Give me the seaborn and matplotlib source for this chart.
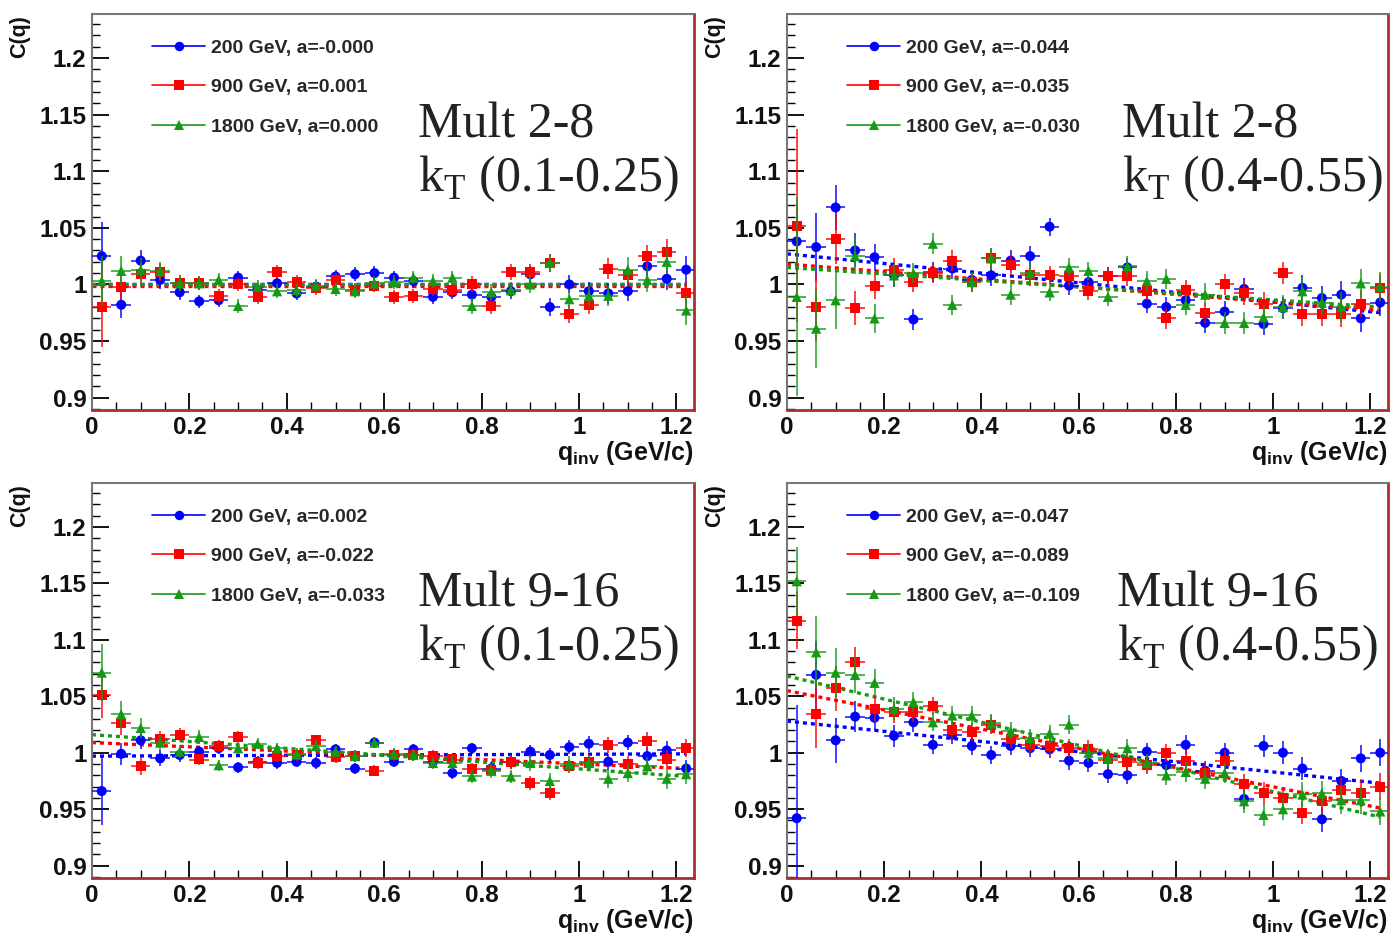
import numpy as np
import pandas as pd
import matplotlib
matplotlib.use("Agg")
import matplotlib.pyplot as plt
from matplotlib.lines import Line2D
from matplotlib.ticker import MultipleLocator, FixedFormatter, FixedLocator
import seaborn as sns

# ---------------- data ----------------
q = [0.02, 0.06, 0.10, 0.14, 0.18, 0.22, 0.26, 0.30, 0.34, 0.38, 0.42, 0.46, 0.50, 0.54, 0.58,
     0.62, 0.66, 0.70, 0.74, 0.78, 0.82, 0.86, 0.90, 0.94, 0.98, 1.02, 1.06, 1.10, 1.14, 1.18, 1.22]
energies = ["200 GeV", "900 GeV", "1800 GeV"]

# Panel 1: Mult 2-8, kT 0.1-0.25
p1_200 = [1.025, 0.982, 1.021, 1.004, 0.993, 0.985, 0.986, 1.006, 0.995, 1.001, 0.992, 0.998, 1.007, 1.009, 1.010,
          1.006, 1.003, 0.989, 0.993, 0.991, 0.989, 0.994, 1.009, 0.980, 1.000, 0.994, 0.992, 0.994, 1.016, 1.005, 1.013]
p1_900 = [0.980, 0.998, 1.009, 1.011, 1.001, 1.001, 0.990, 1.000, 0.989, 1.011, 1.002, 0.997, 1.004, 0.995, 0.999,
          0.989, 0.990, 0.996, 0.995, 1.000, 0.981, 1.011, 1.011, 1.019, 0.974, 0.982, 1.014, 1.008, 1.025, 1.029, 0.992]
p1_1800 = [1.003, 1.012, 1.013, 1.012, 1.001, 1.001, 1.004, 0.981, 0.998, 0.994, 0.995, 0.999, 0.996, 0.994, 1.001,
           1.002, 1.006, 1.003, 1.006, 0.981, 0.993, 0.995, 1.000, 1.019, 0.987, 0.990, 0.990, 1.013, 1.004, 1.020, 0.977]
p1_e200 = [0.030, 0.012, 0.009, 0.008, 0.007, 0.006, 0.006, 0.006, 0.006, 0.006, 0.006, 0.006, 0.006, 0.006, 0.006,
           0.006, 0.006, 0.006, 0.006, 0.007, 0.007, 0.007, 0.007, 0.008, 0.008, 0.008, 0.009, 0.009, 0.010, 0.010, 0.012]
p1_e900 = [0.035, 0.012, 0.009, 0.008, 0.007, 0.006, 0.006, 0.006, 0.006, 0.006, 0.006, 0.006, 0.006, 0.006, 0.006,
           0.006, 0.006, 0.006, 0.006, 0.007, 0.007, 0.007, 0.007, 0.008, 0.008, 0.008, 0.009, 0.009, 0.010, 0.011, 0.011]
p1_e1800 = [0.022, 0.013, 0.010, 0.008, 0.007, 0.006, 0.006, 0.006, 0.006, 0.006, 0.006, 0.006, 0.006, 0.006, 0.006,
            0.006, 0.006, 0.006, 0.006, 0.007, 0.007, 0.007, 0.008, 0.008, 0.008, 0.009, 0.009, 0.011, 0.011, 0.011, 0.013]

# Panel 2: Mult 2-8, kT 0.4-0.55
p2_200 = [1.038, 1.033, 1.068, 1.030, 1.024, 1.008, 0.969, 1.011, 1.014, 1.004, 1.008, 1.021, 1.025, 1.051, 0.999,
          1.002, 1.007, 1.015, 0.983, 0.980, 0.986, 0.966, 0.976, 0.996, 0.965, 0.979, 0.997, 0.988, 0.991, 0.970, 0.984]
p2_900 = [1.052, 0.980, 1.040, 0.979, 0.999, 1.013, 1.002, 1.010, 1.021, 1.002, 1.023, 1.017, 1.008, 1.008, 1.007,
          0.994, 1.007, 1.007, 0.994, 0.970, 0.995, 0.975, 1.000, 0.992, 0.983, 1.010, 0.974, 0.974, 0.974, 0.983, 0.997]
p2_1800 = [0.989, 0.961, 0.986, 1.025, 0.970, 1.008, 1.010, 1.036, 0.982, 1.002, 1.023, 0.991, 1.010, 0.993, 1.015,
           1.012, 0.989, 1.016, 1.003, 1.005, 0.982, 0.991, 0.966, 0.966, 0.971, 0.980, 0.994, 0.984, 0.980, 1.001, 0.998]
p2_e200 = [0.030, 0.030, 0.020, 0.015, 0.012, 0.010, 0.009, 0.009, 0.009, 0.009, 0.009, 0.009, 0.009, 0.008, 0.008,
           0.008, 0.008, 0.008, 0.008, 0.009, 0.009, 0.009, 0.009, 0.010, 0.010, 0.010, 0.011, 0.011, 0.012, 0.012, 0.012]
p2_e900 = [0.085, 0.030, 0.022, 0.015, 0.012, 0.010, 0.009, 0.009, 0.009, 0.009, 0.009, 0.009, 0.009, 0.008, 0.008,
           0.008, 0.008, 0.008, 0.008, 0.009, 0.009, 0.009, 0.009, 0.010, 0.010, 0.010, 0.011, 0.011, 0.012, 0.012, 0.012]
p2_e1800 = [0.088, 0.035, 0.025, 0.016, 0.013, 0.010, 0.009, 0.009, 0.009, 0.009, 0.009, 0.009, 0.009, 0.008, 0.008,
            0.008, 0.008, 0.009, 0.009, 0.009, 0.009, 0.010, 0.010, 0.010, 0.011, 0.011, 0.012, 0.012, 0.013, 0.013, 0.013]

# Panel 3: Mult 9-16, kT 0.1-0.25
p3_200 = [0.966, 0.999, 1.011, 0.995, 0.998, 1.001, 1.004, 0.987, 0.992, 0.991, 0.992, 0.991, 1.003, 0.986, 1.009,
          0.992, 1.003, 0.992, 0.982, 1.004, 0.986, 0.992, 1.001, 0.998, 1.005, 1.008, 0.992, 1.009, 0.997, 1.002, 0.986]
p3_900 = [1.051, 1.026, 0.988, 1.012, 1.016, 0.994, 1.006, 1.014, 0.991, 0.997, 0.998, 1.011, 0.996, 0.997, 0.984,
          0.998, 0.998, 0.997, 0.994, 0.986, 0.985, 0.992, 0.973, 0.964, 0.988, 0.992, 1.007, 0.990, 1.010, 0.994, 1.004]
p3_1800 = [1.071, 1.034, 1.022, 1.009, 1.001, 1.014, 0.989, 1.004, 1.008, 1.004, 0.999, 1.006, 1.001, 0.997, 1.009,
           0.999, 0.998, 0.991, 0.991, 0.979, 0.984, 0.979, 0.991, 0.975, 0.990, 0.991, 0.977, 0.982, 0.988, 0.977, 0.981]
p3_e200 = [0.030, 0.010, 0.008, 0.007, 0.006, 0.005, 0.005, 0.005, 0.005, 0.005, 0.005, 0.005, 0.005, 0.005, 0.005,
           0.005, 0.005, 0.005, 0.005, 0.005, 0.006, 0.006, 0.006, 0.006, 0.006, 0.007, 0.007, 0.007, 0.008, 0.008, 0.008]
p3_e900 = [0.020, 0.010, 0.008, 0.007, 0.006, 0.005, 0.005, 0.005, 0.005, 0.005, 0.005, 0.005, 0.005, 0.005, 0.005,
           0.005, 0.005, 0.005, 0.005, 0.005, 0.006, 0.006, 0.006, 0.006, 0.006, 0.007, 0.007, 0.007, 0.008, 0.008, 0.008]
p3_e1800 = [0.025, 0.012, 0.009, 0.007, 0.006, 0.006, 0.005, 0.005, 0.005, 0.005, 0.005, 0.005, 0.005, 0.005, 0.005,
            0.005, 0.005, 0.005, 0.006, 0.006, 0.006, 0.006, 0.007, 0.007, 0.007, 0.007, 0.008, 0.008, 0.008, 0.009, 0.009]

# Panel 4: Mult 9-16, kT 0.4-0.55
p4_200 = [0.942, 1.069, 1.011, 1.032, 1.031, 1.015, 1.027, 1.007, 1.016, 1.006, 0.998, 1.006, 1.004, 1.003, 0.993,
          0.991, 0.981, 0.980, 1.001, 0.989, 1.007, 0.984, 1.000, 0.959, 1.006, 1.000, 0.986, 0.941, 0.975, 0.995, 1.000]
p4_900 = [1.117, 1.034, 1.057, 1.080, 1.039, 1.036, 1.036, 1.041, 1.020, 1.018, 1.025, 1.012, 1.007, 1.006, 1.004,
          1.003, 0.994, 0.992, 0.989, 1.000, 0.993, 0.982, 0.993, 0.972, 0.964, 0.960, 0.947, 0.957, 0.967, 0.964, 0.970]
p4_1800 = [1.152, 1.089, 1.071, 1.069, 1.062, 1.039, 1.045, 1.027, 1.033, 1.033, 1.026, 1.019, 1.013, 1.017, 1.025,
           1.000, 0.995, 1.004, 0.991, 0.980, 0.983, 0.977, 0.982, 0.957, 0.945, 0.950, 0.963, 0.964, 0.958, 0.958, 0.948]
p4_e200 = [0.100, 0.030, 0.020, 0.014, 0.012, 0.010, 0.009, 0.008, 0.008, 0.008, 0.008, 0.008, 0.008, 0.008, 0.008,
           0.008, 0.008, 0.008, 0.008, 0.008, 0.009, 0.009, 0.009, 0.009, 0.010, 0.010, 0.010, 0.011, 0.011, 0.012, 0.012]
p4_e900 = [0.025, 0.030, 0.020, 0.014, 0.012, 0.010, 0.009, 0.008, 0.008, 0.008, 0.008, 0.008, 0.008, 0.008, 0.008,
           0.008, 0.008, 0.008, 0.008, 0.008, 0.009, 0.009, 0.009, 0.009, 0.010, 0.010, 0.010, 0.011, 0.011, 0.012, 0.012]
p4_e1800 = [0.030, 0.032, 0.022, 0.016, 0.012, 0.010, 0.009, 0.008, 0.008, 0.008, 0.008, 0.008, 0.008, 0.008, 0.008,
            0.008, 0.008, 0.008, 0.008, 0.009, 0.009, 0.009, 0.009, 0.010, 0.010, 0.010, 0.011, 0.011, 0.012, 0.012, 0.012]

# fit results shown in the legends
fit_a = [[-0.0002, 0.001, 0.0002], [-0.044, -0.035, -0.030], [0.002, -0.022, -0.033], [-0.047, -0.089, -0.109]]
# fitted straight lines: C at q = 0 and at q = 1.22
fit_q = [0.0, 1.22]
fit_start = [[1.000, 0.999, 1.000], [1.027, 1.018, 1.015], [0.997, 1.009, 1.016], [1.028, 1.055, 1.068]]
fit_end = [[1.000, 0.999, 1.000], [0.975, 0.977, 0.980], [0.999, 0.986, 0.979], [0.973, 0.951, 0.943]]

mult_labels = ["Mult 2-8", "Mult 2-8", "Mult 9-16", "Mult 9-16"]
kt_labels = ["(0.1-0.25)", "(0.4-0.55)", "(0.1-0.25)", "(0.4-0.55)"]
ytick_vals = [0.9, 0.95, 1.0, 1.05, 1.1, 1.15, 1.2]
ytick_labels = ["0.9", "0.95", "1", "1.05", "1.1", "1.15", "1.2"]
xtick_vals = [0, 0.2, 0.4, 0.6, 0.8, 1.0, 1.2]
xtick_labels = ["0", "0.2", "0.4", "0.6", "0.8", "1", "1.2"]

panels = [
    ([p1_200, p1_900, p1_1800], [p1_e200, p1_e900, p1_e1800]),
    ([p2_200, p2_900, p2_1800], [p2_e200, p2_e900, p2_e1800]),
    ([p3_200, p3_900, p3_1800], [p3_e200, p3_e900, p3_e1800]),
    ([p4_200, p4_900, p4_1800], [p4_e200, p4_e900, p4_e1800]),
]

# ---------------- style ----------------
sns.set_theme(style="ticks")
plt.rcParams["font.family"] = ["Liberation Sans", "DejaVu Sans"]
plt.rcParams["mathtext.fontset"] = "custom"
plt.rcParams["mathtext.rm"] = "Liberation Serif"
plt.rcParams["mathtext.bf"] = "Liberation Sans:bold"

colors = {"200 GeV": "#0000ff", "900 GeV": "#ff0000", "1800 GeV": "#169a16"}
markers = {"200 GeV": "o", "900 GeV": "s", "1800 GeV": "^"}
sizes_pt = {"200 GeV": 7.2, "900 GeV": 7.2, "1800 GeV": 7.4}

W, H = 1390, 940
fig = plt.figure(figsize=(W / 100, H / 100), dpi=100)
fig.patch.set_facecolor("white")

rects_px = [(92, 14, 694, 410), (787, 14, 1388, 410), (92, 483, 694, 878), (787, 483, 1388, 878)]
XMAX = 1.236
YMIN, YMAX = 0.889, 1.239

for i, (series, errs) in enumerate(panels):
    l, t, r, b = rects_px[i]
    ax = fig.add_axes([l / W, 1 - b / H, (r - l) / W, (b - t) / H])
    ax.set_facecolor("white")

    frames = []
    for e_name, vals, ee in zip(energies, series, errs):
        frames.append(pd.DataFrame({"q": q, "C": vals, "err": ee, "energy": e_name}))
    df = pd.concat(frames, ignore_index=True)

    for j, e_name in enumerate(energies):
        fit_df = pd.DataFrame({"q": fit_q, "C": [fit_start[i][j], fit_end[i][j]]})
        sns.lineplot(data=fit_df, x="q", y="C", ax=ax, color=colors[e_name], lw=2.4,
                     linestyle=(0, (1.2, 1.2)), legend=False, zorder=2)
    for j, e_name in enumerate(energies):
        sub = df[df.energy == e_name]
        ax.errorbar(sub.q, sub.C, yerr=sub.err, xerr=0.02, fmt="none", ecolor=colors[e_name],
                    elinewidth=1.3, capsize=0, alpha=0.8, zorder=3 + j)
        sns.scatterplot(data=sub, x="q", y="C", ax=ax, color=colors[e_name], marker=markers[e_name],
                        s=sizes_pt[e_name] ** 2, edgecolor="none", linewidth=0, legend=False, zorder=3.5 + j)

    ax.set_xlim(0, XMAX)
    ax.set_ylim(YMIN, YMAX)
    ax.set_xlabel("")
    ax.set_ylabel("")
    ax.xaxis.set_major_locator(FixedLocator(xtick_vals))
    ax.xaxis.set_major_formatter(FixedFormatter(xtick_labels))
    ax.xaxis.set_minor_locator(MultipleLocator(0.05))
    ax.yaxis.set_major_locator(FixedLocator(ytick_vals))
    ax.yaxis.set_major_formatter(FixedFormatter(ytick_labels))
    ax.yaxis.set_minor_locator(MultipleLocator(0.01))
    ax.tick_params(which="major", direction="in", length=12, width=1.3, color="black",
                   labelsize=17.5, pad=4, top=False, right=False)
    ax.tick_params(which="minor", direction="in", length=6, width=1.0, color="black",
                   top=False, right=False)
    for lab in ax.get_xticklabels() + ax.get_yticklabels():
        lab.set_fontweight("bold")
        lab.set_color("#111111")

    ax.spines["top"].set_color("#777777")
    ax.spines["top"].set_linewidth(1.5)
    ax.spines["left"].set_color("#777777")
    ax.spines["left"].set_linewidth(1.5)
    ax.spines["bottom"].set_color("#a83030")
    ax.spines["bottom"].set_linewidth(2.0)
    ax.spines["right"].set_color("#a83030")
    ax.spines["right"].set_linewidth(2.0)

    # legend
    handles = [Line2D([], [], color=colors[e], marker=markers[e], markersize=sizes_pt[e] * 0.95, lw=1.2,
                      markeredgewidth=0) for e in energies]
    labels = [f"{e}, a={a:.3f}" for e, a in zip(energies, fit_a[i])]
    ax.legend(handles, labels, loc="upper left", bbox_to_anchor=(60 / 602, 1 - 25 / 396),
              frameon=False, handlelength=2.75, handletextpad=0.3, labelspacing=1.13,
              borderpad=0, borderaxespad=0, prop={"family": "Liberation Sans", "weight": "bold", "size": 14})

    # big labels
    tx = 0.542 if i in (0, 2) else 0.557
    if i == 3:
        tx = 0.549
    ax.text(tx, 0.688, mult_labels[i], transform=ax.transAxes, fontsize=36,
            family="Liberation Serif", va="baseline", ha="left", color="#222222")
    ax.text(tx, 0.552, r"k$_\mathrm{T}$ " + kt_labels[i], transform=ax.transAxes, fontsize=36,
            family="Liberation Serif", va="baseline", ha="left", color="#222222")

    # axis titles
    fig.text(r / W, 1 - (b + 50) / H, r"q$_\mathbf{inv}$ (GeV/c)", ha="right", va="baseline",
             fontsize=18, fontweight="bold", color="#111111")
    fig.text((l - 72) / W, 1 - (t + 1) / H, "C(q)", ha="center", va="top", rotation=90,
             fontsize=15.5, fontweight="bold", color="#111111")

fig.savefig("out.png", dpi=100, facecolor="white")
